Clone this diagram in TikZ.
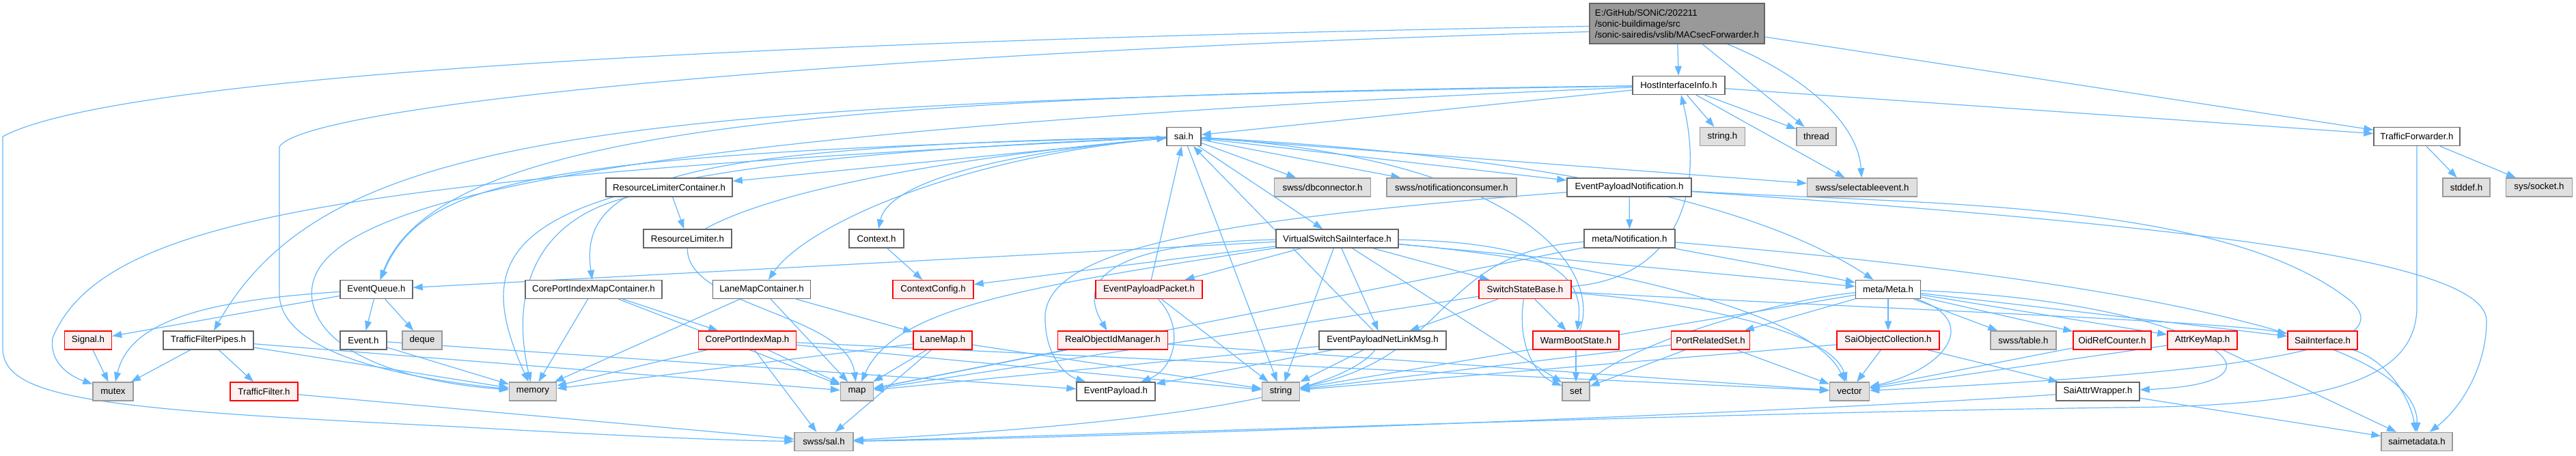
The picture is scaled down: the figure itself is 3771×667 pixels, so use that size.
\documentclass[tikz,border=0pt]{standalone}
\usepackage{fontspec}
\setmainfont{Liberation Sans}
\usetikzlibrary{arrows.meta, backgrounds}
\definecolor{depblue}{HTML}{63B8FF}
\definecolor{fileline}{HTML}{666666}
\definecolor{sysline}{HTML}{999999}
\definecolor{sysfill}{HTML}{E0E0E0}
\definecolor{truncfill}{HTML}{FFF0F0}
\definecolor{mainfill}{HTML}{999999}
\tikzset{
  file/.style={draw=fileline, fill=white, line width=1.4pt, inner sep=0pt, minimum height=27pt, font=\fontsize{13.3}{16}\selectfont},
  sys/.style={file, draw=sysline, fill=sysfill},
  trunc/.style={file, draw=red, fill=truncfill},
  mainfile/.style={file, fill=mainfill, align=left, minimum height=59pt},
  dep/.style={draw=depblue, line width=1.2pt, -{Triangle[length=14pt,width=10pt]}},
}

\begin{document}
\begin{tikzpicture}[x=1pt, y=-1pt]
    \useasboundingbox (0,0) rectangle (3771,667);
    \node[mainfile, minimum width=256] (mf) at (2455,34.5) {E:/GitHub/SONiC/202211\\/sonic-buildimage/src\\/sonic-sairedis/vslib/MACsecForwarder.h};
    \node[file, minimum width=135] (hii) at (2457.5,125) {HostInterfaceInfo.h};
    \node[file, minimum width=50] (sai) at (1733,200) {sai.h};
    \node[sys, minimum width=66] (stringh) at (2521.5,200) {string.h};
    \node[sys, minimum width=58] (thread) at (2659,200) {thread};
    \node[file, minimum width=126] (tfw) at (3538,200) {TrafficForwarder.h};
    \node[file, minimum width=185] (rlc) at (979.5,274.5) {ResourceLimiterContainer.h};
    \node[sys, minimum width=141] (dbc) at (1936,274.5) {swss/dbconnector.h};
    \node[sys, minimum width=190] (nc) at (2125,274.5) {swss/notificationconsumer.h};
    \node[file, minimum width=182] (epn) at (2385,274.5) {EventPayloadNotification.h};
    \node[sys, minimum width=161] (sel) at (2726,274.5) {swss/selectableevent.h};
    \node[sys, minimum width=69] (stddef) at (3610.5,274.5) {stddef.h};
    \node[sys, minimum width=97] (socket) at (3717,274.5) {sys/socket.h};
    \node[file, minimum width=129] (rl) at (1006.5,349.5) {ResourceLimiter.h};
    \node[file, minimum width=80] (ctx) at (1283,349.5) {Context.h};
    \node[file, minimum width=179] (vssi) at (1957.5,349.5) {VirtualSwitchSaiInterface.h};
    \node[file, minimum width=133] (mn) at (2385.5,349.5) {meta/Notification.h};
    \node[file, minimum width=106] (eq) at (551,424) {EventQueue.h};
    \node[file, minimum width=200] (cpimc) at (869,424) {CorePortIndexMapContainer.h};
    \node[file, minimum width=143] (lmc) at (1115,424) {LaneMapContainer.h};
    \node[trunc, minimum width=118] (cc) at (1366,424) {ContextConfig.h};
    \node[trunc, minimum width=156] (epp) at (1682,424) {EventPayloadPacket.h};
    \node[trunc, minimum width=135] (ssb) at (2232.5,424) {SwitchStateBase.h};
    \node[file, minimum width=95] (meta) at (2764,424) {meta/Meta.h};
    \node[trunc, minimum width=69] (sig) at (129,498.5) {Signal.h};
    \node[file, minimum width=132] (tfp) at (305,498.5) {TrafficFilterPipes.h};
    \node[file, minimum width=68] (ev) at (532,498.5) {Event.h};
    \node[sys, minimum width=58] (deque) at (618,498.5) {deque};
    \node[trunc, minimum width=143] (cpim) at (1094,498.5) {CorePortIndexMap.h};
    \node[trunc, minimum width=86] (lm) at (1380,498.5) {LaneMap.h};
    \node[trunc, minimum width=161] (roim) at (1629,498.5) {RealObjectIdManager.h};
    \node[file, minimum width=186] (epnl) at (2024,498.5) {EventPayloadNetLinkMsg.h};
    \node[trunc, minimum width=126] (wbs) at (2307,498.5) {WarmBootState.h};
    \node[trunc, minimum width=115] (prs) at (2504,498.5) {PortRelatedSet.h};
    \node[trunc, minimum width=150] (soc) at (2764,498.5) {SaiObjectCollection.h};
    \node[sys, minimum width=96] (table) at (2962,498.5) {swss/table.h};
    \node[trunc, minimum width=114] (orc) at (3092,498.5) {OidRefCounter.h};
    \node[trunc, minimum width=102] (akm) at (3224,498.5) {AttrKeyMap.h};
    \node[trunc, minimum width=102] (si) at (3400,498.5) {SaiInterface.h};
    \node[sys, minimum width=59] (mutex) at (165.5,573.5) {mutex};
    \node[trunc, minimum width=99] (tf) at (386.5,573.5) {TrafficFilter.h};
    \node[sys, minimum width=69] (memory) at (780,573.5) {memory};
    \node[sys, minimum width=48] (map) at (1254.5,573.5) {map};
    \node[file, minimum width=115] (ep) at (1633.5,573.5) {EventPayload.h};
    \node[sys, minimum width=55] (string) at (1875,573.5) {string};
    \node[sys, minimum width=40] (set) at (2307,573.5) {set};
    \node[sys, minimum width=58] (vector) at (2707.5,573.5) {vector};
    \node[file, minimum width=122] (saw) at (3071,573.5) {SaiAttrWrapper.h};
    \node[sys, minimum width=86] (sal) at (1206,647) {swss/sal.h};
    \node[sys, minimum width=104] (smd) at (3538,647) {saimetadata.h};

    \begin{scope}[on background layer]
    \fill[white] (0,0) rectangle (3771,667);
    \draw[dep] (mf) -- (hii);
    \draw[dep] (mf) -- (thread);
    \draw[dep] (mf) .. controls (2640,110) and (2720,180) .. (sel);
    \draw[dep] (mf) -- (tfw);
    \draw[dep] ([yshift=-4pt]mf.west) .. controls (1400,55) and (200,95) .. (4,200) -- (4,510) .. controls (4,585) and (150,600) .. (667,625) .. controls (900,638) and (1050,645) .. (sal);
    \draw[dep] ([yshift=-12pt]mf.west) .. controls (1300,75) and (450,150) .. (409,215) -- (409,430) .. controls (409,520) and (600,555) .. (memory);
    \draw[dep] (hii) -- (stringh);
    \draw[dep] (hii) -- (thread);
    \draw[dep] (hii) -- (sel);
    \draw[dep] (hii) -- (tfw);
    \draw[dep] (hii) -- (sai);
    \draw[dep] (hii) .. controls (1200,140) and (640,190) .. (eq);
    \draw[dep] (hii) .. controls (900,150) and (480,190) .. (tfp);
    \draw[dep] (hii) .. controls (700,200) and (440,320) .. (457,440) .. controls (470,520) and (600,560) .. (memory);
    \draw[dep] (sai) -- (rlc);
    \draw[dep] (sai) .. controls (1000,215) and (845,260) .. (cpimc);
    \draw[dep] (sai) .. controls (1400,230) and (1180,330) .. (lmc);
    \draw[dep] (sai) .. controls (1450,225) and (1300,270) .. (ctx);
    \draw[dep] (sai) -- (vssi);
    \draw[dep] (sai) .. controls (800,225) and (620,260) .. (eq);
    \draw[dep] (sai) -- (epn);
    \draw[dep] (sai) .. controls (2000,215) and (2500,250) .. (meta);
    \draw[dep] (sai) -- (dbc);
    \draw[dep] (sai) -- (nc);
    \draw[dep] (sai) -- (sel);
    \draw[dep] (sai) .. controls (760,240) and (670,330) .. (memory);
    \draw[dep] (sai) .. controls (500,260) and (150,320) .. (77,495) .. controls (72,530) and (100,550) .. (mutex);
    \draw[dep] (sai) -- (string);
    \draw[dep] (rlc) -- (rl);
    \draw[dep] (rlc) .. controls (790,320) and (745,420) .. (memory);
    \draw[dep] (rl) .. controls (1150,270) and (1450,225) .. (sai);
    \draw[dep] (rl) .. controls (1005,450) and (1240,460) .. (map);
    \draw[dep] (ctx) -- (cc);
    \draw[dep] (vssi) -- (eq);
    \draw[dep] (vssi) -- (cc);
    \draw[dep] (vssi) -- (epp);
    \draw[dep] (vssi) -- (ssb);
    \draw[dep] (vssi) -- (epnl);
    \draw[dep] (vssi) -- (string);
    \draw[dep] (vssi) .. controls (1650,355) and (1570,400) .. (roim);
    \draw[dep] (vssi) .. controls (1500,420) and (1310,450) .. (map);
    \draw[dep] (vssi) .. controls (2260,355) and (2320,400) .. (wbs);
    \draw[dep] (vssi) -- (meta);
    \draw[dep] (vssi) .. controls (2300,380) and (2650,450) .. (vector);
    \draw[dep] (vssi) -- (set);
    \draw[dep] (ssb) .. controls (2440,410) and (2500,300) .. (hii);
    \draw[dep] (ssb) -- (epnl);
    \draw[dep] (ssb) -- (wbs);
    \draw[dep] (ssb) .. controls (2220,510) and (2250,550) .. (set);
    \draw[dep] (ssb) -- (map);
    \draw[dep] (ssb) .. controls (2450,440) and (2680,480) .. (vector);
    \draw[dep] (ssb) .. controls (2700,450) and (3250,470) .. (si);
    \draw[dep] (epp) -- (sai);
    \draw[dep] (epp) -- (string);
    \draw[dep] (epp) .. controls (1735,480) and (1720,540) .. (ep);
    \draw[dep] (roim) -- (map);
    \draw[dep] (roim) -- (vector);
    \draw[dep] (lm) -- (map);
    \draw[dep] (lm) -- (memory);
    \draw[dep] (lm) -- (sal);
    \draw[dep] (lm) -- (string);
    \draw[dep] (cpim) -- (memory);
    \draw[dep] (cpim) -- (map);
    \draw[dep] (cpim) -- (sal);
    \draw[dep] (cpim) -- (string);
    \draw[dep] (cpim) -- (vector);
    \draw[dep] (cpimc) -- (cpim);
    \draw[dep] (cpimc) -- (memory);
    \draw[dep] (cpimc) -- (map);
    \draw[dep] (lmc) -- (lm);
    \draw[dep] (lmc) -- (memory);
    \draw[dep] (lmc) -- (map);
    \draw[dep] (eq) -- (ev);
    \draw[dep] (eq) -- (deque);
    \draw[dep] (eq) -- (sig);
    \draw[dep] (eq) .. controls (300,440) and (190,470) .. (mutex);
    \draw[dep] (ev) -- (memory);
    \draw[dep] (ev) -- (ep);
    \draw[dep] (tfp) -- (tf);
    \draw[dep] (tfp) -- (mutex);
    \draw[dep] (tfp) -- (memory);
    \draw[dep] (tfp) -- (map);
    \draw[dep] (tf) -- (sal);
    \draw[dep] (sig) -- (mutex);
    \draw[dep] (epn) -- (mn);
    \draw[dep] (epn) .. controls (1800,320) and (1540,360) .. (1530,460) .. controls (1528,520) and (1560,550) .. (ep);
    \draw[dep] (epn) .. controls (2800,300) and (3250,290) .. (3440,440) .. controls (3520,510) and (3300,545) .. (vector);
    \draw[dep] (epn) .. controls (3200,330) and (3640,380) .. (3640,470) .. controls (3640,540) and (3600,600) .. (smd);
    \draw[dep] (mn) .. controls (2480,370) and (2650,400) .. (meta);
    \draw[dep] (mn) .. controls (3000,400) and (3540,480) .. (smd);
    \draw[dep] (mn) .. controls (2100,370) and (2130,520) .. (string);
    \draw[dep] (mn) -- (map);
    \draw[dep] (epnl) -- (sai);
    \draw[dep] (epnl) -- (string);
    \draw[dep] (epnl) .. controls (1960,580) and (1700,620) .. (sal);
    \draw[dep] (epnl) -- (map);
    \draw[dep] (epnl) -- (ep);
    \draw[dep] (wbs) .. controls (2345,400) and (2240,235) .. (sai);
    \draw[dep] (wbs) -- (set);
    \draw[dep] (prs) -- (set);
    \draw[dep] (prs) -- (vector);
    \draw[dep] (prs) -- (string);
    \draw[dep] (meta) -- (prs);
    \draw[dep] (meta) -- (soc);
    \draw[dep] (meta) -- (table);
    \draw[dep] (meta) -- (orc);
    \draw[dep] (meta) -- (akm);
    \draw[dep] (meta) -- (si);
    \draw[dep] (meta) .. controls (2900,470) and (2850,540) .. (vector);
    \draw[dep] (meta) .. controls (2600,440) and (2400,500) .. (set);
    \draw[dep] (meta) -- (string);
    \draw[dep] (meta) .. controls (3200,440) and (3400,560) .. (saw);
    \draw[dep] (soc) -- (vector);
    \draw[dep] (soc) -- (saw);
    \draw[dep] (soc) -- (string);
    \draw[dep] (orc) -- (vector);
    \draw[dep] (akm) -- (vector);
    \draw[dep] (akm) -- (smd);
    \draw[dep] (si) .. controls (3500,530) and (3530,590) .. (smd);
    \draw[dep] (saw) -- (smd);
    \draw[dep] (saw) .. controls (2700,600) and (1700,640) .. (sal);
    \draw[dep] (tfw) -- (stddef);
    \draw[dep] (tfw) -- (socket);
    \draw[dep] (tfw) -- (3538,449) .. controls (3538,560) and (3400,595) .. (3100,597) .. controls (2500,605) and (1700,635) .. (sal);
    \end{scope}
  \end{tikzpicture}
\end{document}
